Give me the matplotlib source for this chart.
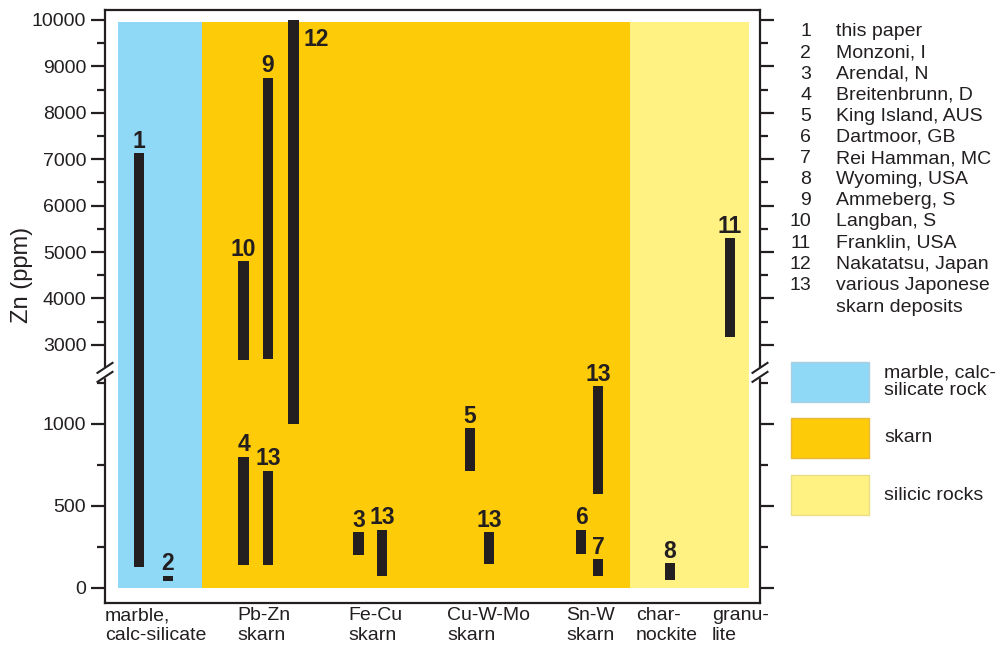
import numpy as np
import matplotlib
matplotlib.use("Agg")
import matplotlib.pyplot as plt
from matplotlib import font_manager
from matplotlib.patches import Rectangle

plt.rcParams['font.family'] = ['Liberation Sans', 'DejaVu Sans']

# bold labels: make sure the regular-width bold face is used, not the narrow one
bold_files = [f for f in font_manager.findSystemFonts() if f.endswith('LiberationSans-Bold.ttf')]
if bold_files:
    bold_font = font_manager.FontProperties(fname=bold_files[0], size=16.5)
else:
    bold_font = font_manager.FontProperties(family='DejaVu Sans', weight='bold', size=15)

# Zn ranges per reference (ppm)
ref_ids = ['1', '2', '10', '4', '9', '13', '12', '3', '13', '5', '13', '6', '13', '7', '8', '11']
zn_low = [130, 40, 2680, 140, 2700, 140, 1000, 200, 70, 715, 145, 205, 575, 75, 50, 3170]
zn_high = [7130, 75, 4800, 800, 8750, 715, 10000, 340, 355, 975, 340, 355, 1230, 175, 150, 5300]
bar_x = [139, 168, 243.5, 243.5, 268, 268, 293.5, 358.5, 382, 470, 489, 581, 598, 598, 670, 730]

# rock type backgrounds
rock_names = ['marble, calc-\nsilicate rock', 'skarn', 'silicic rocks']
rock_colors = ['#8fd8f6', '#fecb08', '#fff283']
rock_edges = ['#a9cfe0', '#e8b83a', '#e9dd86']
rock_x0 = [118, 202, 630]
rock_x1 = [202, 630, 749]
rock_top = 9950

categories = ['marble,\ncalc-silicate', 'Pb-Zn\nskarn', 'Fe-Cu\nskarn', 'Cu-W-Mo\nskarn',
              'Sn-W\nskarn', 'char-\nnockite', 'granu-\nlite']
cat_x = [105, 237, 348, 447, 566, 636, 712]

ref_list = ['this paper', 'Monzoni, I', 'Arendal, N', 'Breitenbrunn, D', 'King Island, AUS',
            'Dartmoor, GB', 'Rei Hamman, MC', 'Wyoming, USA', 'Ammeberg, S', 'Langban, S',
            'Franklin, USA', 'Nakatatsu, Japan', 'various Japonese\nskarn deposits']

major_ticks = [0, 500, 1000, 3000, 4000, 5000, 6000, 7000, 8000, 9000, 10000]
minor_ticks = [250, 750, 1250, 3500, 4500, 5500, 6500, 7500, 8500, 9500]

# broken axis: lower 0-1293, upper 2332-10000
brk_lo, brk_hi = 1293, 2332
xp = [-5000, brk_lo, brk_hi, 20000]
fp = [-5000 * 0.164, brk_lo * 0.164, brk_lo * 0.164 + 0.01,
      brk_lo * 0.164 + 0.01 + (20000 - brk_hi) * 0.04643]

def fwd(y):
    return np.interp(y, xp, fp)

def inv(u):
    return np.interp(u, fp, xp)

W, H = 997, 652
fig = plt.figure(figsize=(W / 100, H / 100), dpi=100)
ax = fig.add_axes([105 / W, (H - 603) / H, 655 / W, 593 / H])
ax.set_yscale('function', functions=(fwd, inv))
ax.set_xlim(105, 760)
ax.set_ylim(-92, 10215)

dark = '#231f20'

for x0, x1, c in zip(rock_x0, rock_x1, rock_colors):
    ax.bar(x0, rock_top, width=x1 - x0, bottom=0, align='edge', color=c, zorder=1)

ax.bar(bar_x, np.array(zn_high) - np.array(zn_low), bottom=zn_low, width=10.5,
       color=dark, zorder=3)

for rid, x, top in zip(ref_ids, bar_x, zn_high):
    if rid == '12':
        ax.annotate(rid, (x, top), xytext=(7, -19), textcoords='offset points',
                    ha='left', va='baseline', fontproperties=bold_font, color=dark)
    else:
        ax.annotate(rid, (x, top), xytext=(0, 4), textcoords='offset points',
                    ha='center', va='baseline', fontproperties=bold_font, color=dark)

ax.set_yticks(major_ticks)
ax.set_yticks(minor_ticks, minor=True)
ax.set_yticklabels([str(t) for t in major_ticks])
ax.tick_params(axis='y', which='both', left=True, right=True, direction='out',
               width=1.6, color=dark, labelsize=14, pad=3.5, labelcolor=dark)
ax.tick_params(axis='y', which='major', length=10)
ax.tick_params(axis='y', which='minor', length=6)

ax.set_xticks(cat_x)
ax.set_xticklabels(categories, ha='left', fontsize=14, color=dark)
ax.tick_params(axis='x', length=0, pad=3)

for s in ax.spines.values():
    s.set_linewidth(1.6)
    s.set_color(dark)

# break marks on both spines
fig.canvas.draw()
yb = ax.transAxes.inverted().transform(ax.transData.transform((0, brk_lo)))[1] + 0.006
px_x, px_y = 1 / 655, 1 / 593
for xs in (0, 1):
    ax.add_patch(Rectangle((xs - 4 * px_x, yb - 4.5 * px_y), 8 * px_x, 9 * px_y,
                           transform=ax.transAxes, color='white', clip_on=False, zorder=5))
    for dy in (-4.5, 4.5):
        ax.plot([xs - 7.5 * px_x, xs + 7.5 * px_x],
                [yb + (dy - 5) * px_y, yb + (dy + 5) * px_y],
                transform=ax.transAxes, color=dark, lw=1.5, clip_on=False, zorder=6)

fig.text(22 / W, 1 - 275 / H, 'Zn (ppm)', rotation=90, ha='center', va='center',
         fontsize=17, color=dark)

# reference list
for i, name in enumerate(ref_list):
    y = 1 - (32 + i * 21.1) / H
    fig.text(811 / W, y, str(i + 1), ha='right', va='center', fontsize=14, color=dark)
    fig.text(836 / W, y, name.split('\n')[0], ha='left', va='center', fontsize=14, color=dark)
    if '\n' in name:
        fig.text(836 / W, y - 22 / H, name.split('\n')[1], ha='left', va='center',
                 fontsize=14, color=dark)

# rock type legend
box_top = [362, 418, 475]
for name, c, ec, yt in zip(rock_names, rock_colors, rock_edges, box_top):
    fig.patches.append(Rectangle((791 / W, 1 - (yt + 40) / H), 78 / W, 40 / H,
                                 transform=fig.transFigure, facecolor=c, edgecolor=ec,
                                 lw=1, figure=fig))
    fig.text(884 / W, 1 - (yt + 20) / H, name, ha='left', va='center', fontsize=14,
             color=dark, linespacing=1.05)

fig.savefig('out.png', dpi=100)
